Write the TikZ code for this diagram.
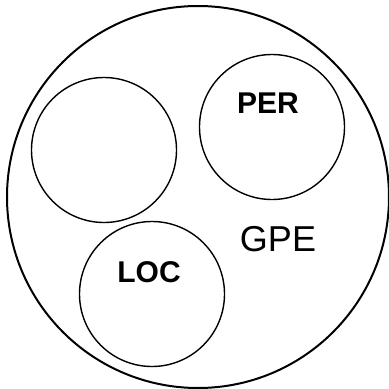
\documentclass[tikz,border=0pt]{standalone}
\usepackage{fontspec}
\setmainfont{Liberation Sans}
\begin{document}
\begin{tikzpicture}[x=1pt,y=-1pt,
  outer/.style={draw=black,line width=2pt,circle,minimum size=382pt,inner sep=0pt},
  inner/.style={draw=black,line width=1.4pt,circle,minimum size=145pt,inner sep=0pt},
  boldlab/.style={font=\fontsize{30}{36}\selectfont\bfseries,inner sep=0pt},
  plainlab/.style={font=\fontsize{36}{42}\selectfont,inner sep=0pt}]
\useasboundingbox (0,0) rectangle (389,389);
\node[outer] (gpe) at (198,197) {};
\node[inner] (blank) at (104,150) {};
\node[inner] (per) at (272,127) {};
\node[inner] (loc) at (152,294) {};
\node[boldlab] (pertext) at (268,103) {PER};
\node[boldlab] (loctext) at (149,272) {LOC};
\node[plainlab] (gpetext) at (278,239) {GPE};
\end{tikzpicture}
\end{document}
